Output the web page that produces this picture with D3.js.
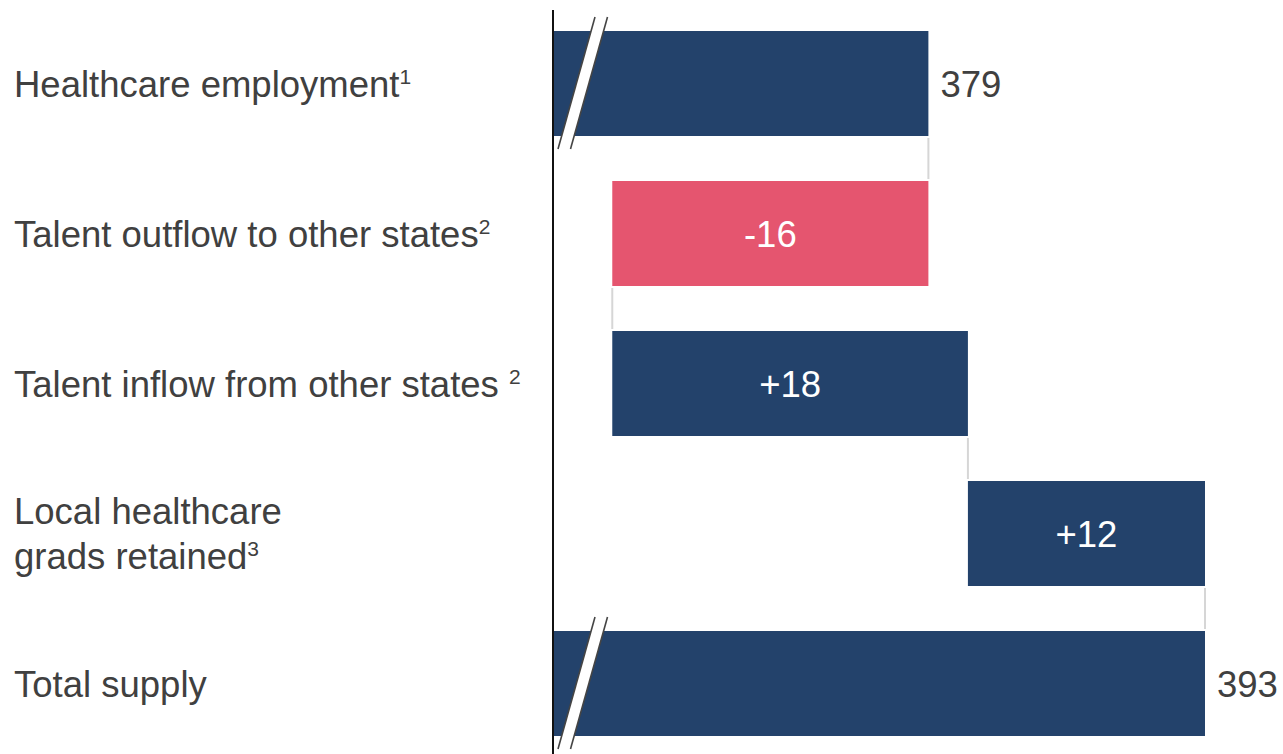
<!DOCTYPE html>
<html>
<head>
<meta charset="utf-8">
<script src="https://cdn.jsdelivr.net/npm/d3@7"></script>
<style>
  html, body { margin: 0; padding: 0; background: #fff; }
  svg { display: block; font-family: "Liberation Sans", Arial, sans-serif; }
</style>
</head>
<body>
<svg id="chart" width="1283" height="754"></svg>
<script>
// Waterfall: healthcare talent supply (thousands)
const categories = [
  "Healthcare employment",
  "Talent outflow to other states",
  "Talent inflow from other states",
  "Local healthcare grads retained",
  "Total supply"
];
// label lines as drawn, with footnote marker on the last line
const labelLines = [
  ["Healthcare employment"],
  ["Talent outflow to other states"],
  ["Talent inflow from other states "],
  ["Local healthcare", "grads retained"],
  ["Total supply"]
];
const footnotes = ["1", "2", "2", "3", ""];
const kinds = ["total", "delta", "delta", "delta", "total"];
const values = [379, -16, 18, 12, 393];
const valueLabels = ["379", "-16", "+18", "+12", "393"];

const W = 1283, H = 754;
const axisX = 553;
const navy = "#23426B", red = "#E5556F", textCol = "#404040";
const fontSize = 36.5;

const svg = d3.select("#chart");

// running start/end for each bar
let running = 0;
const bars = categories.map((c, i) => {
  let start, end;
  if (kinds[i] === "total") { start = null; end = values[i]; running = values[i]; }
  else { start = running; end = running + values[i]; running = end; }
  return { cat: c, i, start, end, v: values[i], label: valueLabels[i], kind: kinds[i] };
});

const axisMin = 360;
const x = d3.scaleLinear().domain([axisMin, 393]).range([axisX, 1205]);
const y = d3.scaleBand().domain(categories).range([8.5, 758.5])
  .paddingInner(0.3).paddingOuter(0.15);
const bh = y.bandwidth();

// connectors between consecutive bars
const conn = svg.append("g");
bars.slice(0, -1).forEach((b, i) => {
  const xv = b.end;
  conn.append("line")
    .attr("x1", x(xv)).attr("x2", x(xv))
    .attr("y1", y(b.cat) + bh + 2).attr("y2", y(bars[i + 1].cat) - 2)
    .attr("stroke", "#d6d6d6").attr("stroke-width", 2);
});

// bars
svg.append("g").selectAll("rect").data(bars).join("rect")
  .attr("x", d => d.kind === "total" ? x(axisMin) : x(Math.min(d.start, d.end)))
  .attr("width", d => d.kind === "total" ? x(d.end) - x(axisMin) : Math.abs(x(d.end) - x(d.start)))
  .attr("y", d => y(d.cat))
  .attr("height", bh)
  .attr("fill", d => d.v < 0 ? red : navy);

// axis break marks on the total bars
bars.filter(d => d.kind === "total").forEach(d => {
  const top = y(d.cat) - 14, bot = y(d.cat) + bh + 13;
  const xb = axisX + 5, xt = axisX + 42, gap = 12.5;
  const g = svg.append("g");
  g.append("path")
    .attr("d", `M${xb},${bot} L${xt},${top} L${xt + gap},${top} L${xb + gap},${bot} Z`)
    .attr("fill", "#fff");
  [0, gap].forEach(o => g.append("line")
    .attr("x1", xb + o).attr("y1", bot).attr("x2", xt + o).attr("y2", top)
    .attr("stroke", "#444").attr("stroke-width", 1.6));
});

// vertical axis line
svg.append("line")
  .attr("x1", axisX).attr("x2", axisX).attr("y1", 10).attr("y2", H)
  .attr("stroke", "#111").attr("stroke-width", 2);

// value labels
svg.append("g").selectAll("text").data(bars).join("text")
  .attr("x", d => d.kind === "total" ? x(d.end) + 12 : (x(d.start) + x(d.end)) / 2)
  .attr("y", d => y(d.cat) + bh / 2 + 13)
  .attr("text-anchor", d => d.kind === "total" ? "start" : "middle")
  .attr("fill", d => d.kind === "total" ? textCol : "#fff")
  .attr("font-size", fontSize)
  .text(d => d.label);

// category labels with superscript footnotes
const lineGap = 45;
categories.forEach((c, i) => {
  const lines = labelLines[i];
  const cy = y(c) + bh / 2 + 13 - (lines.length - 1) * lineGap / 2;
  lines.forEach((ln, j) => {
    const t = svg.append("text")
      .attr("x", 14).attr("y", cy + j * lineGap)
      .attr("fill", textCol).attr("font-size", fontSize);
    t.append("tspan").text(ln);
    if (j === lines.length - 1 && footnotes[i]) {
      t.append("tspan").attr("dy", -13).attr("font-size", 21).text(footnotes[i]);
    }
  });
});
</script>
</body>
</html>
